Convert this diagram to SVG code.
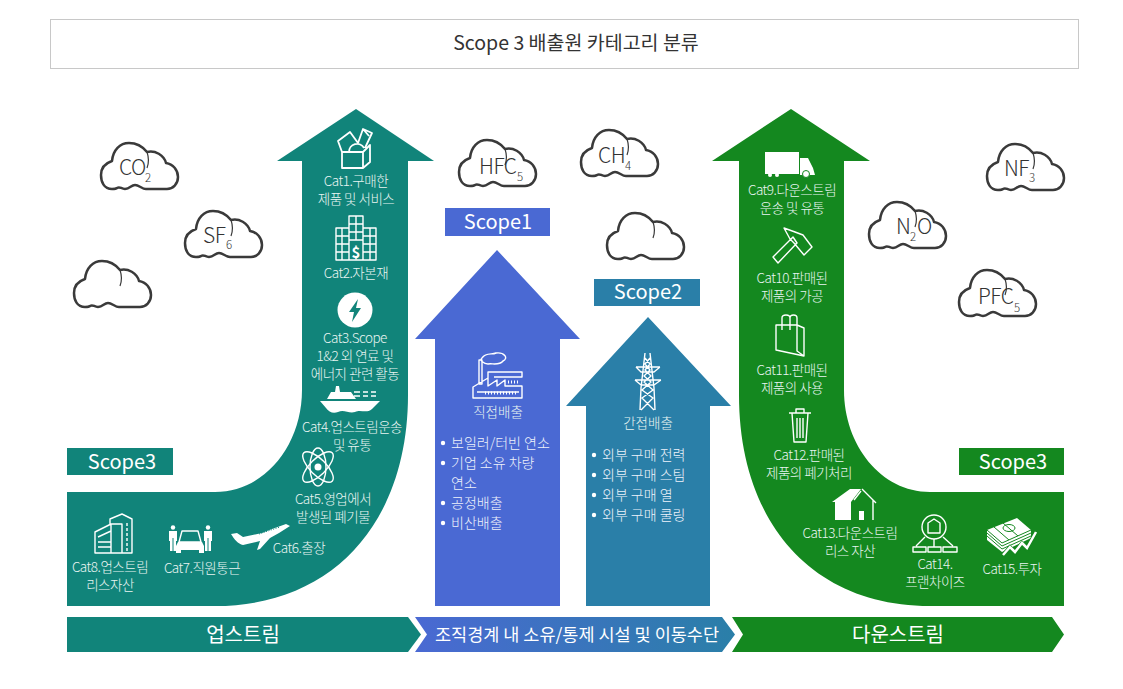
<svg xmlns="http://www.w3.org/2000/svg" width="1123" height="689" viewBox="0 0 1123 689">
<style>
text{font-family:"Noto Sans CJK KR","Noto Sans",sans-serif}
.l{fill:#e9f5f2;font-size:13.500px;font-weight:300;text-anchor:middle;letter-spacing:-.5px}
.b{fill:#eef2fb;font-size:14px;font-weight:300}
.s{fill:#fff;font-size:20px;text-anchor:middle}
.g{fill:#333;font-size:21px;font-weight:300;letter-spacing:-.5px}
.u{fill:#333;font-size:11.500px;font-weight:300}
.t{fill:#fff;font-size:20px;font-weight:400;text-anchor:middle}
.i{fill:none;stroke:#fff;stroke-width:1.400;stroke-linejoin:round}
.f{fill:#fff}
.c{fill:#fff;stroke:#3a3a3a;stroke-width:2.500;stroke-linejoin:round}
.cn{fill:none;stroke:#3a3a3a;stroke-width:1.200}
</style>
<defs>
<linearGradient id="mid" x1="0" x2="1" y1="0" y2="0"><stop offset="0" stop-color="#4a69d3"/><stop offset="1" stop-color="#2a7fa8"/></linearGradient>
<g id="cloud"><path class="c" d="M12 47C4 47 1 40 1 33C1 25 6 21 12 19C13 8 20 1 29 1C37 1 43 5 47 10C55 8 64 13 66 21C73 22 78 28 78 35C78 42 73 47 67 47L46 47C42 47 39 43 35 43C31 43 30 47 25 47C21 47 20 44 17 46C16 47 14 47 12 47Z"/><path class="cn" d="M47 10C49 16 49 21 47 26"/></g>
</defs>

<g id="title"><rect x="50.500" y="19.500" width="1028" height="49" fill="#fff" stroke="#c8c8c8"/><text x="576" y="50" text-anchor="middle" font-size="19.500" font-weight="400" fill="#333">Scope 3 배출원 카테고리 분류</text></g>

<g id="shapes">
<path id="arrow-up" fill="#11847a" d="M356 109L434 161H408V395C408 520 335 606 215 606H67V492H215C265 492 302 445 302 390V161H277Z"/>
<path id="arrow-scope1" fill="#4a69d3" d="M497 250L580 339H560V606H435V339H415Z"/>
<path id="arrow-scope2" fill="#2a7fa8" d="M648 317L731 406H710V606H586V406H566Z"/>
<path id="arrow-down" fill="#14881f" d="M791 109L870 161H844V390C844 445 881 492 930 492H1064V606H930C810 606 739 520 739 395V161H712Z"/>
<rect x="67" y="448" width="106" height="27" fill="#11847a"/><rect x="445" y="208" width="105" height="28" fill="#4a69d3"/><rect x="594" y="279" width="106" height="27" fill="#2a7fa8"/><rect x="959" y="448" width="105" height="27" fill="#14881f"/>
<text class="s" x="122" y="469">Scope3</text><text class="s" x="498" y="229">Scope1</text><text class="s" x="648" y="299">Scope2</text><text class="s" x="1013" y="469">Scope3</text>
</g>

<g id="bars">
<path fill="#11847a" d="M67 617H408L421 634.500L408 652H67Z"/>
<path fill="url(#mid)" d="M415 617H722L735 634.500L722 652H415L427 634.500Z"/>
<path fill="#14881f" d="M732 617H1052L1064 634.500L1052 652H732L743 634.500Z"/>
<text class="t" x="243" y="642">업스트림</text><text class="t" x="577" y="641" style="font-size:17.500px">조직경계 내 소유/통제 시설 및 이동수단</text><text class="t" x="898" y="642">다운스트림</text>
</g>

<g id="clouds">
<g id="cloud-co2"><use href="#cloud" x="100" y="142"/><text class="g" x="119" y="175">CO</text><text class="u" x="145" y="182">2</text></g>
<g id="cloud-sf6"><use href="#cloud" x="184" y="210"/><text class="g" x="203" y="243">SF</text><text class="u" x="226" y="249">6</text></g>
<g id="cloud-a"><use href="#cloud" x="73" y="260"/></g>
<g id="cloud-hfc"><use href="#cloud" x="458" y="139"/><text class="g" x="479" y="174">HFC</text><text class="u" x="517" y="181">5</text></g>
<g id="cloud-ch4"><use href="#cloud" x="580" y="129"/><text class="g" x="598" y="163">CH</text><text class="u" x="625" y="170">4</text></g>
<g id="cloud-b"><use href="#cloud" x="606" y="212"/></g>
<g id="cloud-n2o"><use href="#cloud" x="868" y="201"/><text class="g" x="896" y="234">N</text><text class="u" x="910" y="241">2</text><text class="g" x="917" y="234">O</text></g>
<g id="cloud-nf3"><use href="#cloud" x="986" y="143"/><text class="g" x="1004" y="176">NF</text><text class="u" x="1029" y="182">3</text></g>
<g id="cloud-pfc"><use href="#cloud" x="958" y="269"/><text class="g" x="978" y="304">PFC</text><text class="u" x="1014" y="312">5</text></g>
</g>

<g id="cat1"><path class="i" d="M342 152H363V168H342ZM363 152L370 145V162L363 168M342 152L338 141L350 132L358 143M349 152A8 8 0 0 1 364 148M358 143L363 129L372 133L365 148M363 129L369 136" style="stroke-width:1.800"/><text class="l" x="356" y="186">Cat1.구매한</text><text class="l" x="356" y="204">제품 및 서비스</text></g>
<g id="cat2"><path class="i" d="M336 228H349V260H336ZM349 216H363V260H349ZM363 228H376V260H363ZM336 236H349M336 244H349M336 252H349M342 228V260M349 224H363M349 232H363M349 240H363M356 216V240M363 236H376M363 244H376M363 252H376M370 228V260"/><text x="356" y="258" class="f" font-size="15" font-weight="700" text-anchor="middle">$</text><text class="l" x="356" y="278">Cat2.자본재</text></g>
<g id="cat3"><circle cx="355" cy="310" r="17.500" class="f"/><path fill="#11847a" d="M358 299L349 312H354L352 322L361 308H356Z"/><text class="l" x="355" y="343">Cat3.Scope</text><text class="l" x="355" y="361">1&amp;2 외 연료 및</text><text class="l" x="355" y="379">에너지 관련 활동</text></g>
<g id="cat4"><path class="f" d="M320 401H380L372 409C366 414 361 409 355 412C349 414 344 409 338 412C333 414 329 412 326 408ZM327 399L331 392H335L336 386H339L340 392H351L356 399Z"/><path stroke="#fff" stroke-width="1.500" d="M354 392H360M363 392H368M371 392H376M354 396H360M363 396H368M371 396H376"/><text class="l" x="352" y="432">Cat4.업스트림운송</text><text class="l" x="352" y="450">및 유통</text></g>
<g id="cat5"><g class="i"><ellipse cx="318" cy="467" rx="20" ry="8" transform="rotate(45 318 467)"/><ellipse cx="318" cy="467" rx="20" ry="8" transform="rotate(-45 318 467)"/><ellipse cx="318" cy="467" rx="8" ry="19"/></g><circle cx="318" cy="467" r="3.500" class="f"/><text class="l" x="333" y="504">Cat5.영업에서</text><text class="l" x="333" y="522">발생된 폐기물</text></g>
<g id="cat6"><path class="f" d="M231 534L237 533L243 537L262 533L272 529L286 524L290 526L279 533L270 538L260 549L257 550L260 541L243 545C238 544 234 539 231 534Z"/><path stroke="#11847a" stroke-dasharray="1 1.500" d="M259 534L280 527"/><text class="l" x="299" y="553">Cat6.출장</text></g>
<g id="cat7"><path class="i" d="M182 531H198L201 542H179Z"/><path class="f" d="M178 542H202L204 546V553H199V550H181V553H176V546Z"/><circle cx="173" cy="527.500" r="2.200" class="f"/><circle cx="208" cy="527.500" r="2.200" class="f"/><path class="f" d="M169 531H177V541H176V551H170V541H169ZM204 531H212V541H211V551H205V541H204Z"/><path stroke="#11847a" d="M173 538V551M208 538V551"/><text class="l" x="202" y="573">Cat7.직원통근</text></g>
<g id="cat8"><path class="i" d="M95 532L111 524H122V553H95ZM110 524V519L122 514L132 519V553H122M98 537L111 531M98 542H111M98 547H111M111 524V553"/><path class="i" stroke-dasharray="3 2" d="M127 523V551"/><text class="l" x="110" y="572">Cat8.업스트림</text><text class="l" x="110" y="590">리스자산</text></g>

<g id="scope1-items"><path class="i" d="M473 398V387L488 378V386L497 380V386L505 380V386H522V398ZM488 378V372H522V377H494M479 360V384H482V360ZM482 358C486 352 492 355 496 353C504 352 509 358 503 361C499 366 492 363 488 364C484 364 479 360 482 358ZM477 392H519"/><path stroke="#fff" stroke-width="3" stroke-dasharray="1 2" d="M485 393H517M508 382H518"/><text class="l" x="498" y="417" style="letter-spacing:0">직접배출</text>
<g><circle cx="443" cy="443" r="2.200" class="f"/><text class="b" x="451" y="448">보일러/터빈 연소</text><circle cx="443" cy="463" r="2.200" class="f"/><text class="b" x="451" y="468">기업 소유 차량</text><text class="b" x="451" y="488">연소</text><circle cx="443" cy="503" r="2.200" class="f"/><text class="b" x="451" y="508">공정배출</text><circle cx="443" cy="523" r="2.200" class="f"/><text class="b" x="451" y="528">비산배출</text></g></g>
<g id="scope2-items"><path class="i" d="M645 353L641 388L640 410M650 353L654 388L655 410M636 367H660M635 380H661M636 367L641 372H654L660 367M635 380L641 385H654L661 380M645 358L650 364L645 370L651 376L644 382L653 390L642 398L654 410M650 358L645 364L650 370L644 376L651 382L642 390L653 398L641 410"/><text class="l" x="648" y="428" style="letter-spacing:0">간접배출</text>
<circle cx="594" cy="455" r="2.200" class="f"/><text class="b" x="602" y="460">외부 구매 전력</text><circle cx="594" cy="475" r="2.200" class="f"/><text class="b" x="602" y="480">외부 구매 스팀</text><circle cx="594" cy="495" r="2.200" class="f"/><text class="b" x="602" y="500">외부 구매 열</text><circle cx="594" cy="515" r="2.200" class="f"/><text class="b" x="602" y="520">외부 구매 쿨링</text></g>

<g id="cat9"><path class="f" d="M765 152H799V174H765ZM800 158H808L813 168L815 175H800Z"/><circle cx="806" cy="174" r="3.500" class="f" stroke="#14881f"/><circle cx="770" cy="175" r="2" class="f"/><circle cx="777" cy="175" r="2" class="f"/><text class="l" x="792" y="195">Cat9.다운스트림</text><text class="l" x="792" y="213">운송 및 유통</text></g>
<g id="cat10"><path class="i" d="M773 257L793 237L797 243L778 263ZM784 228L795 232L803 235L812 247L804 255L794 243L790 239Z"/><text class="l" x="792" y="283">Cat10.판매된</text><text class="l" x="792" y="301">제품의 가공</text></g>
<g id="cat11"><path class="i" d="M776 325H797L804 328V356L776 350ZM797 325V351L804 356M782 330V318C782 314 790 314 790 318V330M790 322V318C790 314 797 314 797 318V330"/><text class="l" x="792" y="375">Cat11.판매된</text><text class="l" x="792" y="393">제품의 사용</text></g>
<g id="cat12"><path class="i" d="M789 413H811M792 413L794 442H806L808 413M796 413V409H804V413M797 418V438M800 418V438M803 418V438"/><text class="l" x="809" y="460">Cat12.판매된</text><text class="l" x="809" y="478">제품의 폐기처리</text></g>
<g id="cat13"><path class="f" d="M832 502L850 489H861L851 502V520H835V502Z"/><path class="i" d="M862 489L876 503M873 500V520M861 491L854 500"/><rect x="859" y="511" width="5" height="9" class="f"/><text class="l" x="850" y="538">Cat13.다운스트림</text><text class="l" x="850" y="556">리스 자산</text></g>
<g id="cat14"><circle cx="934" cy="527" r="12" class="i"/><path class="i" d="M928 533V523L934 519L940 523V533ZM925 537L916 546M943 537L953 546M934 539V547M913 547H926V552H913ZM928 547H941V552H928ZM943 547H957V552H943Z"/><text class="l" x="935" y="569">Cat14.</text><text class="l" x="935" y="587">프랜차이즈</text></g>
<g id="cat15"><path class="f" d="M987 530L1017 518L1031 530V538L1002 552L987 540Z"/><path fill="none" stroke="#14881f" d="M987 530L1002 543L1031 530M987 533L1002 546L1031 533M987 536L1002 549L1031 536M994 527L1009 540M1003 523L1018 536"/><ellipse cx="1009" cy="528" rx="6" ry="3.500" fill="none" stroke="#14881f"/><path d="M1003 556L1010 548L1015 553L1022 544L1027 549L1036 533" fill="none" stroke="#14881f" stroke-width="5"/><path d="M1003 555L1010 547L1015 552L1022 543L1027 548L1036 532" fill="none" stroke="#fff" stroke-width="2.500"/><text class="l" x="1012" y="574">Cat15.투자</text></g>
</svg>
